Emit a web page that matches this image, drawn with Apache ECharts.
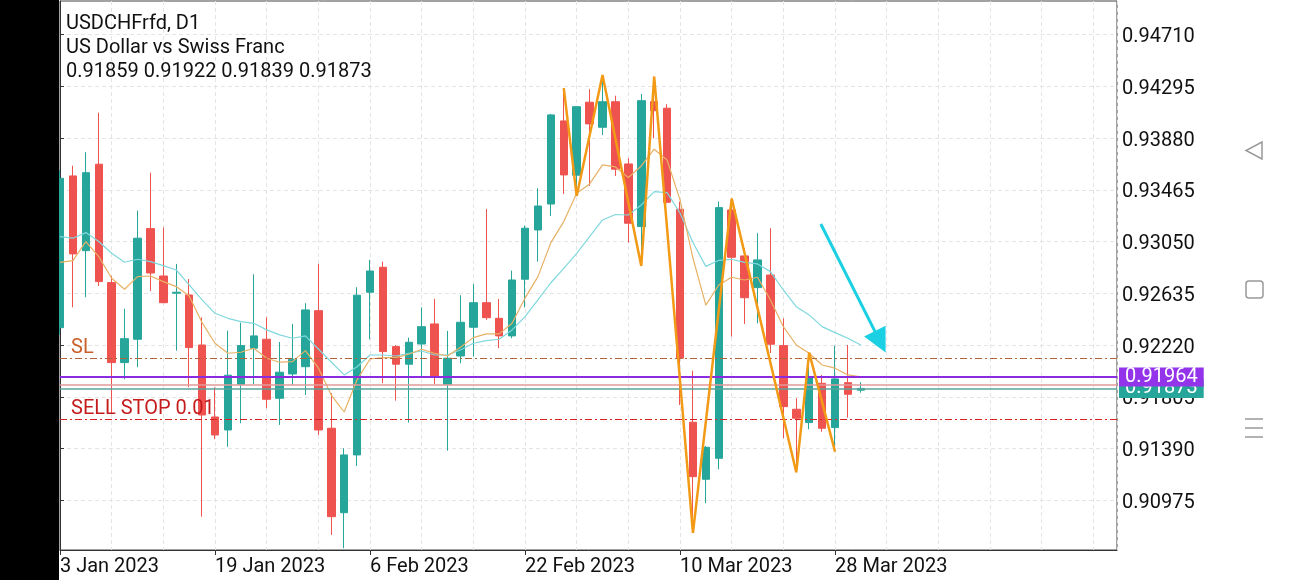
<!DOCTYPE html>
<html>
<head>
<meta charset="utf-8">
<script src="https://cdn.jsdelivr.net/npm/echarts@6/dist/echarts.min.js"></script>
<style>
html,body{margin:0;padding:0;background:#fff;}
#c{width:1290px;height:580px;}
</style>
</head>
<body>
<div id="c"></div>
<script>
// ---------- data ----------
const symbolName = 'USDCHFrfd, D1';
const description = 'US Dollar vs Swiss Franc';

const dates = [
 '3 Jan 2023','4 Jan 2023','5 Jan 2023','6 Jan 2023','9 Jan 2023','10 Jan 2023','11 Jan 2023','12 Jan 2023','13 Jan 2023','16 Jan 2023',
 '17 Jan 2023','18 Jan 2023','19 Jan 2023','20 Jan 2023','23 Jan 2023','24 Jan 2023','25 Jan 2023','26 Jan 2023','27 Jan 2023','30 Jan 2023',
 '31 Jan 2023','1 Feb 2023','2 Feb 2023','3 Feb 2023','6 Feb 2023','7 Feb 2023','8 Feb 2023','9 Feb 2023','10 Feb 2023','13 Feb 2023',
 '14 Feb 2023','15 Feb 2023','16 Feb 2023','17 Feb 2023','20 Feb 2023','21 Feb 2023','22 Feb 2023','23 Feb 2023','24 Feb 2023','27 Feb 2023',
 '28 Feb 2023','1 Mar 2023','2 Mar 2023','3 Mar 2023','6 Mar 2023','7 Mar 2023','8 Mar 2023','9 Mar 2023','10 Mar 2023','13 Mar 2023',
 '14 Mar 2023','15 Mar 2023','16 Mar 2023','17 Mar 2023','20 Mar 2023','21 Mar 2023','22 Mar 2023','23 Mar 2023','24 Mar 2023','27 Mar 2023',
 '28 Mar 2023','29 Mar 2023','30 Mar 2023'
];

const opens = [
 0.92360,0.93576,0.92977,0.93670,0.92721,0.92080,0.92267,0.93154,0.92774,0.92636,
 0.92622,0.92221,0.91644,0.91540,0.91906,0.92195,0.92267,0.91794,0.91989,0.92047,
 0.92496,0.91554,0.90877,0.91340,0.92644,0.92844,0.92208,0.92067,0.92229,0.92390,
 0.91906,0.92133,0.92363,0.92560,0.92435,0.92294,0.92748,0.93143,0.93351,0.94017,
 0.93582,0.94167,0.93966,0.94171,0.93672,0.93170,0.94171,0.94119,0.93309,0.91602,
 0.91145,0.91313,0.93303,0.92935,0.92681,0.92782,0.92216,0.91706,0.91599,0.91914,
 0.91559,0.91919,0.91859
];
const highs = [
 0.93624,0.93658,0.93766,0.94083,0.92774,0.92512,0.93298,0.93602,0.93162,0.92871,
 0.92750,0.92443,0.91882,0.92336,0.92400,0.92788,0.92443,0.92245,0.92390,0.92556,
 0.92871,0.91834,0.91393,0.92684,0.92903,0.92889,0.92221,0.92280,0.92523,0.92592,
 0.92334,0.92620,0.92710,0.93311,0.92590,0.92817,0.93178,0.93477,0.94073,0.94279,
 0.94137,0.94271,0.94385,0.94219,0.93718,0.94233,0.94372,0.94151,0.93370,0.92015,
 0.91412,0.93370,0.93394,0.92996,0.93117,0.93157,0.92435,0.91794,0.92160,0.91981,
 0.92216,0.92221,0.91922
];
const lows = [
 0.92302,0.92523,0.92604,0.92694,0.91674,0.91946,0.92043,0.92654,0.92556,0.92176,
 0.91882,0.90845,0.91466,0.91406,0.91594,0.91909,0.91714,0.91580,0.91901,0.91821,
 0.91500,0.90699,0.90592,0.91252,0.92267,0.91914,0.91775,0.91599,0.91973,0.91909,
 0.91374,0.92075,0.92128,0.92422,0.92195,0.92275,0.92523,0.92889,0.93255,0.93432,
 0.93416,0.93496,0.93905,0.93576,0.93041,0.92855,0.93878,0.93357,0.91740,0.90715,
 0.90953,0.91225,0.92288,0.92390,0.92395,0.92157,0.91474,0.91201,0.91546,0.91526,
 0.91366,0.91639,0.91839
];
const closes = [
 0.93557,0.92951,0.93602,0.92729,0.92080,0.92272,0.93077,0.92798,0.92560,0.92644,
 0.92200,0.91660,0.91500,0.91979,0.92216,0.92294,0.91786,0.92003,0.92107,0.92502,
 0.91540,0.90845,0.91340,0.92620,0.92814,0.92168,0.92067,0.92243,0.92368,0.91973,
 0.92115,0.92403,0.92560,0.92440,0.92294,0.92742,0.93157,0.93335,0.94065,0.93584,
 0.94131,0.93993,0.94171,0.93630,0.93197,0.94179,0.94099,0.93365,0.92115,0.91166,
 0.91401,0.93322,0.92924,0.92600,0.92903,0.92227,0.91727,0.91634,0.91967,0.91554,
 0.91949,0.91826,0.91873
];

const maFast = [
 0.92883,0.92897,0.93049,0.92929,0.92756,0.92668,0.92769,0.92774,0.92729,0.92689,
 0.92614,0.92400,0.92235,0.92155,0.92163,0.92195,0.92115,0.92083,0.92088,0.92176,
 0.92037,0.91820,0.91684,0.91942,0.92109,0.92120,0.92120,0.92147,0.92187,0.92155,
 0.92133,0.92203,0.92280,0.92310,0.92310,0.92395,0.92597,0.92769,0.93041,0.93210,
 0.93437,0.93512,0.93664,0.93648,0.93564,0.93656,0.93790,0.93704,0.93384,0.92918,
 0.92541,0.92702,0.92764,0.92742,0.92764,0.92582,0.92368,0.92221,0.92155,0.92061,
 0.92035,0.91981,0.91965
];
const maSlow = [
 0.93089,0.93077,0.93122,0.93050,0.92956,0.92884,0.92908,0.92889,0.92857,0.92822,
 0.92702,0.92582,0.92475,0.92435,0.92408,0.92395,0.92342,0.92302,0.92275,0.92294,
 0.92189,0.92085,0.91981,0.92047,0.92141,0.92141,0.92133,0.92155,0.92173,0.92141,
 0.92141,0.92181,0.92235,0.92256,0.92267,0.92342,0.92448,0.92582,0.92720,0.92835,
 0.92956,0.93089,0.93223,0.93267,0.93263,0.93343,0.93450,0.93442,0.93279,0.93042,
 0.92851,0.92900,0.92908,0.92883,0.92871,0.92809,0.92662,0.92528,0.92462,0.92368,
 0.92320,0.92275,0.92221
];

const zigzagIdx = [39,40,42,45,46,49,52,57,58,60];
const zigzagVal = [0.94279,0.93416,0.94385,0.92855,0.94372,0.90715,0.93394,0.91201,0.92160,0.91366];

const yTicks = [0.90975,0.91390,0.91805,0.92220,0.92635,0.93050,0.93465,0.93880,0.94295,0.94710];
const xLabelIdx = [0,12,24,36,48,60];

const slLevel = 0.92115;
const sellStopLevel = 0.91626;
const alertLevel = 0.91964;
const askLevel = 0.91906;
const bidLevel = 0.91873;
const arrowFrom = [58.9, 0.93191];
const arrowTo = [63.5, 0.92246];

// ---------- chart ----------
const FONT = 'Roboto';
const n = dates.length;
const candleData = dates.map((d, i) => [i, opens[i], closes[i], lows[i], highs[i]]);
const fastData = maFast.map((v, i) => [i, v]);
const slowData = maSlow.map((v, i) => [i, v]);
const zigData = zigzagIdx.map((i, k) => [i, zigzagVal[k]]);
const last = n - 1;
const headerLine = [opens[last], highs[last], lows[last], closes[last]].map(v => v.toFixed(5)).join(' ');

const xMin = 0, xMax = 81.83;
const yMin = 0.90578, yMax = 0.94978;
// label axis shifted by ~2.5 px so glyph centres sit on the ticks
const labelShift = (yMax - yMin) / 549 * 2.5;
const gridDash = {color: '#e4e4e4', type: [4, 3], width: 1};
const dashDot = [7, 3, 2, 3];

function levelSeries(name, value, z, lineStyle, label) {
  return {
    name: name, type: 'line', data: [[xMin, value]], z: z, silent: true,
    showSymbol: false, symbol: 'none', lineStyle: {width: 0},
    markLine: {
      silent: true, symbol: ['none', 'none'], animation: false, precision: 6,
      lineStyle: lineStyle,
      label: label || {show: false},
      data: [{yAxis: value}]
    }
  };
}

const chart = echarts.init(document.getElementById('c'), null, {renderer: 'canvas'});
chart.setOption({
  animation: false,
  backgroundColor: '#ffffff',
  textStyle: {fontFamily: FONT},
  title: {
    text: [symbolName, description, headerLine].join('\n'),
    left: 61, top: 7,
    textStyle: {fontSize: 20, fontWeight: 'normal', color: '#111', lineHeight: 24, fontFamily: FONT}
  },
  grid: {left: 60, right: 173, top: 1, bottom: 30, show: true, borderColor: '#444', borderWidth: 1, backgroundColor: '#fff'},
  xAxis: [
    {
      type: 'value', min: xMin, max: xMax, interval: 4, position: 'bottom',
      axisLine: {show: true, lineStyle: {color: '#333'}},
      axisTick: {show: false},
      axisLabel: {
        customValues: xLabelIdx,
        formatter: v => (dates[Math.round(v)] || ''),
        align: 'left', margin: 7, fontSize: 20, color: '#111', fontFamily: FONT
      },
      splitLine: {show: true, lineStyle: gridDash}
    },
    {
      type: 'value', min: xMin, max: xMax, position: 'bottom',
      axisLine: {show: false},
      axisTick: {show: true, customValues: xLabelIdx, length: 5, lineStyle: {color: '#333'}},
      axisLabel: {show: false},
      splitLine: {show: false}
    }
  ],
  yAxis: [
    {
      type: 'value', position: 'right', min: yMin, max: yMax,
      axisLine: {show: true, lineStyle: {color: '#333'}},
      axisTick: {show: true, customValues: yTicks, length: 4, lineStyle: {color: '#333'}},
      axisLabel: {show: false},
      splitLine: {show: true, lineStyle: gridDash}
    },
    {
      type: 'value', position: 'right', min: yMin + labelShift, max: yMax + labelShift,
      axisLine: {show: false},
      axisTick: {show: false},
      axisLabel: {customValues: yTicks, formatter: v => v.toFixed(5), margin: 5, fontSize: 20, color: '#111', fontFamily: FONT},
      splitLine: {show: false}
    }
  ],
  graphic: [
    {type: 'rect', left: 0, top: 0, shape: {width: 59, height: 580}, style: {fill: '#000'}, z: 100},
    {type: 'polygon', shape: {points: [[1262, 142], [1262, 159], [1246, 150.5]]}, style: {fill: 'none', stroke: '#999', lineWidth: 1.5}, z: 100},
    {type: 'rect', shape: {x: 1246, y: 281, width: 17, height: 17, r: 3}, style: {fill: 'none', stroke: '#999', lineWidth: 1.5}, z: 100},
    {type: 'line', shape: {x1: 1245, y1: 419, x2: 1263, y2: 419}, style: {stroke: '#999', lineWidth: 1.5}, z: 100},
    {type: 'line', shape: {x1: 1245, y1: 428, x2: 1263, y2: 428}, style: {stroke: '#999', lineWidth: 1.5}, z: 100},
    {type: 'line', shape: {x1: 1245, y1: 437, x2: 1263, y2: 437}, style: {stroke: '#999', lineWidth: 1.5}, z: 100}
  ],
  series: [
    {
      name: 'USDCHF', type: 'candlestick', xAxisIndex: 0, yAxisIndex: 0,
      data: candleData, encode: {x: 0, y: [1, 2, 3, 4]},
      barWidth: 8, z: 2,
      itemStyle: {color: '#26a69a', color0: '#ef5350', borderColor: '#26a69a', borderColor0: '#ef5350', borderWidth: 1}
    },
    levelSeries('SL', slLevel, 3, {color: '#b0643a', type: dashDot, width: 1},
      {show: true, position: 'insideStartTop', formatter: 'SL', color: '#c9602a', fontSize: 20, fontFamily: FONT, distance: 0, padding: [0, 0, 0, 11]}),
    levelSeries('SELL STOP', sellStopLevel, 3, {color: '#d82020', type: dashDot, width: 1},
      {show: true, position: 'insideStartTop', formatter: 'SELL STOP 0.01', color: '#c41c1c', fontSize: 20, fontFamily: FONT, distance: 0, padding: [0, 0, 0, 11]}),
    levelSeries('Ask', askLevel, 3, {color: '#e39a9a', type: 'solid', width: 1.5}),
    levelSeries('Bid', bidLevel, 3, {color: '#5aa39b', type: 'solid', width: 1.5},
      {show: true, position: 'end', formatter: bidLevel.toFixed(5), color: '#fff', backgroundColor: '#26a69a', fontSize: 20, fontFamily: FONT, padding: [0, 6, 0, 6], lineHeight: 19, distance: 2}),
    {
      name: 'MA slow', type: 'line', data: slowData, showSymbol: false, smooth: false, z: 4,
      lineStyle: {color: '#7fd8dd', width: 1.2}
    },
    {
      name: 'MA fast', type: 'line', data: fastData, showSymbol: false, smooth: false, z: 4,
      lineStyle: {color: '#e8b165', width: 1.2}
    },
    levelSeries('Alert', alertLevel, 5, {color: '#8a2be2', type: 'solid', width: 2.2},
      {show: true, position: 'end', formatter: alertLevel.toFixed(5), color: '#fff', backgroundColor: '#9333ea', fontSize: 20, fontFamily: FONT, padding: [0, 6, 0, 6], lineHeight: 19, distance: 2}),
    {
      name: 'ZigZag', type: 'line', data: zigData, showSymbol: false, smooth: false, z: 6,
      lineStyle: {color: '#f29a16', width: 2.5}
    },
    {
      name: 'arrow', type: 'line', data: [arrowFrom], z: 7, silent: true,
      showSymbol: false, symbol: 'none', lineStyle: {width: 0},
      markLine: {
        silent: true, animation: false, precision: 6,
        symbol: ['none', 'triangle'], symbolSize: 24,
        lineStyle: {color: '#1bd0e3', width: 3, type: 'solid'},
        itemStyle: {color: '#1bd0e3'},
        label: {show: false},
        data: [[{coord: arrowFrom}, {coord: arrowTo}]]
      }
    }
  ]
});
</script>
</body>
</html>
